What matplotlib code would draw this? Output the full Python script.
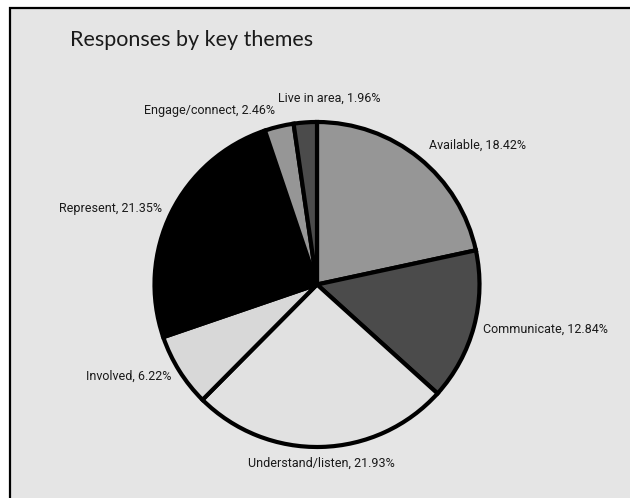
import numpy as np
import matplotlib
matplotlib.use("Agg")
import matplotlib.pyplot as plt
from matplotlib.patches import Rectangle
from matplotlib import font_manager

themes = ["Available", "Communicate", "Understand/listen", "Involved",
          "Represent", "Engage/connect", "Live in area"]
shares = [18.42, 12.84, 21.93, 6.22, 21.35, 2.46, 1.96]
fills = ["#969696", "#4b4b4b", "#e1e1e1", "#d8d8d8",
         "#000000", "#969696", "#4b4b4b"]

installed = {f.name for f in font_manager.fontManager.ttflist}
label_font = "Liberation Sans Narrow" if "Liberation Sans Narrow" in installed else "Roboto"

W, H = 630, 498
fig = plt.figure(figsize=(W / 100, H / 100), dpi=100, facecolor="white")

# grey panel with a dark rule on the top and left edges
panel = Rectangle((10 / W, -0.1), 1.2, 1 - 8 / H + 0.1, transform=fig.transFigure,
                  facecolor="#e5e5e5", edgecolor="black", linewidth=1.6, zorder=-5)
fig.patches.append(panel)

ax = fig.add_axes([0, 0, 1, 1])
ax.set_facecolor("none")

labels = ["{}, {:.2f}%".format(t, s) for t, s in zip(themes, shares)]
wedges, texts = ax.pie(shares, labels=labels, colors=fills, startangle=90,
                       counterclock=False, labeldistance=1.1,
                       wedgeprops=dict(edgecolor="black", linewidth=3,
                                       joinstyle="miter"),
                       textprops=dict(fontsize=9, family=label_font,
                                      color="#1a1a1a"))

# side labels sit a little closer to the rim
for i in (1, 3, 4):
    a = np.deg2rad((wedges[i].theta1 + wedges[i].theta2) / 2)
    texts[i].set_position((1.06 * np.cos(a), 1.06 * np.sin(a)))

# bottom label centred under the pie, small top slice label lifted a bit
texts[2].set_horizontalalignment("center")
mid = np.deg2rad((wedges[6].theta1 + wedges[6].theta2) / 2 - 8)
texts[6].set_position((1.15 * np.cos(mid), 1.15 * np.sin(mid)))
texts[6].set_horizontalalignment("center")

cx, cy, r = 317, 284.5, 162.5
ax.set_xlim(-cx / r, (W - cx) / r)
ax.set_ylim(-(H - cy) / r, cy / r)
ax.set_aspect("auto")
ax.axis("off")

fig.text(70 / W, 1 - 40 / H, "Responses by key themes", fontsize=15.5,
         family="Lato", color="#1a1a1a", va="center", ha="left")

fig.savefig("out.png", dpi=100, facecolor="white")
